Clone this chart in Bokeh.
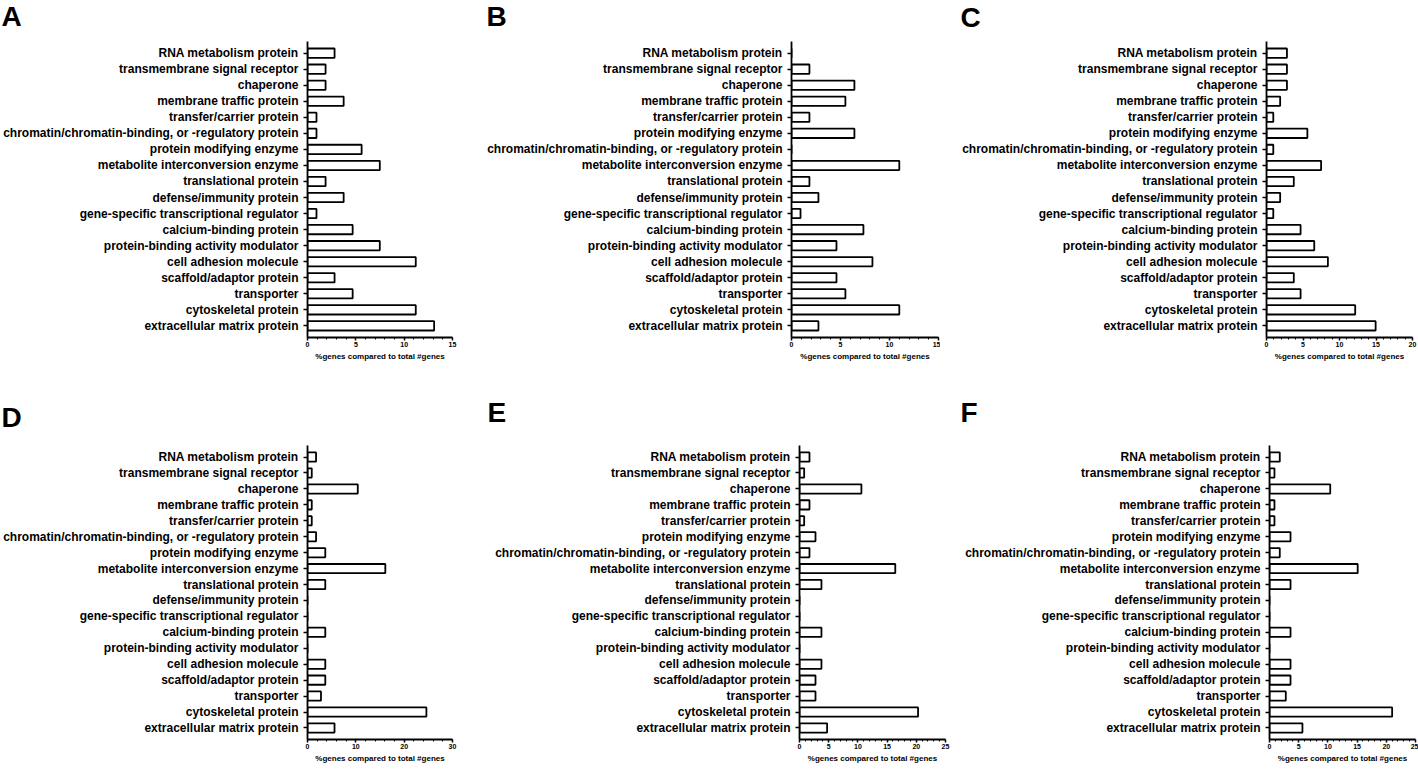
from bokeh.plotting import figure
from bokeh.layouts import column, row
from bokeh.models import FactorRange, Range1d, SingleIntervalTicker, Title, ColumnDataSource
from bokeh.embed import file_html
from bokeh.resources import INLINE

# Category orders (top -> bottom as drawn)
order_1 = [
    "RNA metabolism protein",
    "transmembrane signal receptor",
    "chaperone",
    "membrane traffic protein",
    "transfer/carrier protein",
    "chromatin/chromatin-binding, or -regulatory protein",
    "protein modifying enzyme",
    "metabolite interconversion enzyme",
    "translational protein",
    "defense/immunity protein",
    "gene-specific transcriptional regulator",
    "calcium-binding protein",
    "protein-binding activity modulator",
    "cell adhesion molecule",
    "scaffold/adaptor protein",
    "transporter",
    "cytoskeletal protein",
    "extracellular matrix protein",
]
order_2 = [
    "RNA metabolism protein",
    "transmembrane signal receptor",
    "chaperone",
    "membrane traffic protein",
    "transfer/carrier protein",
    "protein modifying enzyme",
    "chromatin/chromatin-binding, or -regulatory protein",
    "metabolite interconversion enzyme",
    "translational protein",
    "defense/immunity protein",
    "gene-specific transcriptional regulator",
    "calcium-binding protein",
    "protein-binding activity modulator",
    "cell adhesion molecule",
    "scaffold/adaptor protein",
    "transporter",
    "cytoskeletal protein",
    "extracellular matrix protein",
]

# % genes compared to total #genes (same order as the category list of each panel)
vals_A = [2.8, 1.87, 1.87, 3.74, 0.93, 0.93, 5.6, 7.48, 1.87, 3.74, 0.93, 4.67, 7.48, 11.2, 2.8, 4.67, 11.2, 13.1]
vals_B = [0, 1.83, 6.42, 5.5, 1.83, 6.42, 0, 11.0, 1.83, 2.75, 0.92, 7.34, 4.59, 8.26, 4.59, 5.5, 11.0, 2.75]
vals_C = [2.8, 2.8, 2.8, 1.87, 0.93, 5.6, 0.93, 7.48, 3.74, 1.87, 0.93, 4.67, 6.54, 8.41, 3.74, 4.67, 12.15, 14.95]
vals_D = [1.77, 0.88, 10.4, 0.88, 0.88, 1.77, 3.68, 16.1, 3.68, 0, 0, 3.68, 0, 3.68, 3.68, 2.79, 24.6, 5.59]
vals_E = [1.71, 0.8, 10.6, 1.71, 0.8, 2.74, 1.71, 16.4, 3.76, 0, 0, 3.76, 0, 3.76, 2.74, 2.74, 20.3, 4.73]
vals_F = [1.76, 0.85, 10.4, 0.85, 0.85, 3.6, 1.76, 15.1, 3.6, 0, 0, 3.6, 0, 3.6, 3.6, 2.79, 21.0, 5.64]

x_label = "%genes compared to total #genes"
FONT = "Liberation Sans"


def panel(letter, cats, vals, xmax, step, width, left, right, height, top, bottom, lx, gap):
    factors = list(reversed(cats))
    src = ColumnDataSource(dict(cat=cats, val=vals))
    p = figure(
        width=width, height=height,
        y_range=FactorRange(factors=factors, range_padding=0.025),
        x_range=Range1d(0, xmax),
        output_backend="svg", toolbar_location=None,
        min_border_left=left, min_border_right=right,
        min_border_top=top, min_border_bottom=bottom,
    )
    # empty spacer between the frame and the panel letter
    p.add_layout(Title(text=" ", text_font_size=f"{gap}px", standoff=0), "above")
    p.title = Title(text=letter, align="left", offset=lx - left, vertical_align="top",
                    standoff=0, text_font=FONT, text_font_style="bold",
                    text_font_size="28px", text_color="black")
    p.hbar(y="cat", right="val", left=0, height=0.58, source=src,
           fill_color="white", line_color="black", line_width=1.8)
    p.outline_line_color = None
    p.xgrid.visible = False
    p.ygrid.visible = False
    p.background_fill_color = "white"
    p.border_fill_color = "white"

    xa = p.xaxis[0]
    xa.ticker = SingleIntervalTicker(interval=step, num_minor_ticks=5)
    xa.axis_label = x_label
    xa.axis_label_text_font = FONT
    xa.axis_label_text_font_style = "bold"
    xa.axis_label_text_font_size = "8px"
    xa.axis_label_text_color = "black"
    xa.axis_label_standoff = 2
    xa.major_label_text_font = FONT
    xa.major_label_text_font_style = "bold"
    xa.major_label_text_font_size = "7px"
    xa.major_label_text_color = "black"
    xa.major_label_standoff = 1
    xa.axis_line_width = 1.8
    xa.axis_line_color = "black"
    xa.major_tick_line_width = 1.5
    xa.major_tick_line_color = "black"
    xa.major_tick_out = 3
    xa.major_tick_in = 0
    xa.minor_tick_line_width = 1
    xa.minor_tick_line_color = "black"
    xa.minor_tick_out = 2
    xa.minor_tick_in = 0

    ya = p.yaxis[0]
    ya.major_label_text_font = FONT
    ya.major_label_text_font_style = "bold"
    ya.major_label_text_font_size = "12px"
    ya.major_label_text_color = "black"
    ya.major_label_standoff = 5
    ya.axis_line_width = 1.8
    ya.axis_line_color = "black"
    ya.major_tick_line_width = 1.5
    ya.major_tick_line_color = "black"
    ya.major_tick_out = 4
    ya.major_tick_in = 0
    return p


# top row: height 385 ; bottom row: height 386
pA = panel("A", order_1, vals_A, 15, 5, 470, 306, 18, 385, 40, 45, 0, 5)
pB = panel("B", order_2, vals_B, 15, 5, 470, 321, 2, 385, 40, 46, 16, 5)
pC = panel("C", order_2, vals_C, 20, 5, 478, 326, 6, 385, 38, 48, 20, 4)
pD = panel("D", order_1, vals_D, 30, 10, 470, 306, 18, 386, 55, 32, 0, 8)
pE = panel("E", order_2, vals_E, 25, 5, 480, 329, 5, 386, 60, 22, 17, 12)
pF = panel("F", order_2, vals_F, 25, 5, 468, 319, 3, 386, 60, 22, 10, 12)

layout = column(row(pA, pB, pC), row(pD, pE, pF))

open("out.html", "w").write(file_html(layout, INLINE))
